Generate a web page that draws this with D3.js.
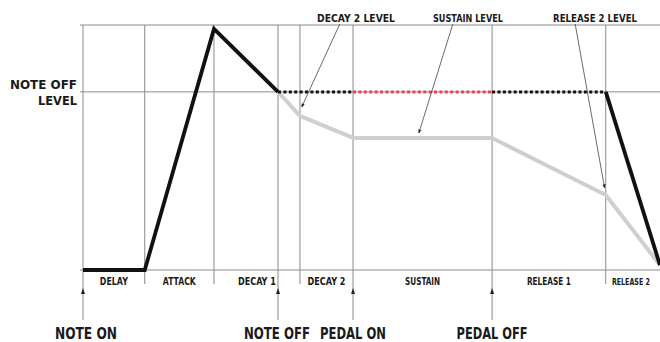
<!DOCTYPE html>
<html>
<head>
<meta charset="utf-8">
<script src="https://cdn.jsdelivr.net/npm/d3@7"></script>
<style>
  html, body { margin: 0; padding: 0; background: #fff; }
  svg { display: block; }
</style>
</head>
<body>
<div id="chart"></div>
<script>
// Envelope timeline (time 0-100, level 0-100)
const stageNames = ["DELAY", "ATTACK", "DECAY 1", "DECAY 2", "SUSTAIN", "RELEASE 1", "RELEASE 2"];
const stageStarts = [0, 10.7, 22.7, 37.6, 46.8, 70.9, 90.6];
const stageEnds = [10.7, 22.7, 37.6, 46.8, 70.9, 90.6, 100];

const eventNames = ["NOTE ON", "NOTE OFF", "PEDAL ON", "PEDAL OFF"];
const eventTimes = [0, 33.8, 46.8, 70.9];

// black envelope: note released without pedal
const blackTimes = [0, 10.7, 22.7, 33.8];
const blackLevels = [0, 0, 98.4, 72.7];
const releaseTimes = [90.6, 100];
const releaseLevels = [72.7, 2];

// held note-off level (dotted), red part while pedal is down
const holdStart = 33.8, pedalOn = 46.8, pedalOff = 70.9, holdEnd = 90.6;
const noteOffLevel = 72.7;

// grey envelope: with sustain pedal
const greyTimes = [33.8, 37.6, 46.8, 70.9, 90.6, 100];
const greyLevels = [72.7, 62.9, 53.9, 53.9, 30.6, 2];

// callouts at the top
const calloutNames = ["DECAY 2 LEVEL", "SUSTAIN LEVEL", "RELEASE 2 LEVEL"];
const calloutFromTimes = [44.5, 64.1, 85.3];
const calloutToTimes = [37.9, 58.2, 90.4];
const calloutToLevels = [66.5, 55.9, 33.5];

const width = 660, height = 342;
const font = "'Liberation Sans Narrow', 'DejaVu Sans Condensed', 'Liberation Sans', sans-serif";

const x = d3.scaleLinear().domain([0, 100]).range([83, 660]);
const y = d3.scaleLinear().domain([0, 100]).range([270, 25]);

const svg = d3.select("#chart").append("svg")
    .attr("width", width)
    .attr("height", height);

const defs = svg.append("defs");
defs.append("marker")
    .attr("id", "tip")
    .attr("viewBox", "0 0 10 10")
    .attr("refX", 9).attr("refY", 5)
    .attr("markerWidth", 5).attr("markerHeight", 5)
    .attr("orient", "auto")
    .append("path")
    .attr("d", "M0,1 L10,5 L0,9 Z")
    .attr("fill", "#222");

const grid = svg.append("g").attr("stroke", "#8a8a8a").attr("stroke-width", 1);

// horizontal lines: top, note-off level, baseline
[100, noteOffLevel, 0].forEach(l => {
    grid.append("line")
        .attr("x1", 80).attr("x2", width)
        .attr("y1", y(l)).attr("y2", y(l));
});

// stage boundary lines
const boundaries = Array.from(new Set(stageStarts));
boundaries.forEach(t => {
    const isEvent = eventTimes.includes(t);
    grid.append("line")
        .attr("x1", x(t)).attr("x2", x(t))
        .attr("y1", y(100)).attr("y2", isEvent ? 320 : 284);
});
// note off line (not a stage boundary)
eventTimes.filter(t => !boundaries.includes(t)).forEach(t => {
    grid.append("line")
        .attr("x1", x(t)).attr("x2", x(t))
        .attr("y1", y(100)).attr("y2", 320);
});

// event arrowheads
svg.append("g").selectAll("path")
    .data(eventTimes)
    .enter().append("path")
    .attr("d", t => `M${x(t) - 2},${294} L${x(t)},${288} L${x(t) + 2},${294} Z`)
    .attr("fill", "#222");

const line = d3.line().x(d => x(d[0])).y(d => y(d[1]));

// grey (pedal) envelope
svg.append("path")
    .datum(greyTimes.map((t, i) => [t, greyLevels[i]]))
    .attr("d", line)
    .attr("fill", "none")
    .attr("stroke", "#cfcfcf")
    .attr("stroke-width", 4)
    .attr("stroke-linejoin", "round");

// dotted held level
const dotted = [
    [holdStart, pedalOn, "#111"],
    [pedalOn, pedalOff, "#e8454c"],
    [pedalOff, holdEnd, "#111"]
];
dotted.forEach(s => {
    svg.append("path")
        .datum([[s[0], noteOffLevel], [s[1], noteOffLevel]])
        .attr("d", line)
        .attr("fill", "none")
        .attr("stroke", s[2])
        .attr("stroke-width", 3)
        .attr("stroke-dasharray", "3,2.4");
});

// black envelope
[[blackTimes, blackLevels], [releaseTimes, releaseLevels]].forEach(p => {
    svg.append("path")
        .datum(p[0].map((t, i) => [t, p[1][i]]))
        .attr("d", line)
        .attr("fill", "none")
        .attr("stroke", "#111")
        .attr("stroke-width", 3.8)
        .attr("stroke-linejoin", "miter");
});

// callout leaders
calloutNames.forEach((n, i) => {
    svg.append("line")
        .attr("x1", x(calloutFromTimes[i])).attr("y1", 24)
        .attr("x2", x(calloutToTimes[i])).attr("y2", y(calloutToLevels[i]))
        .attr("stroke", "#444")
        .attr("stroke-width", 0.8)
        .attr("marker-end", "url(#tip)");
});

function label(txt, cx, base, size, len, anchor) {
    svg.append("text")
        .attr("x", cx).attr("y", base)
        .attr("text-anchor", anchor || "middle")
        .attr("font-family", font)
        .attr("font-weight", "bold")
        .attr("font-size", size)
        .attr("fill", "#1a1a1a")
        .attr("textLength", len)
        .attr("lengthAdjust", "spacingAndGlyphs")
        .text(txt);
}

// stage labels
const stageWidths = [28, 33, 38, 38, 35, 44, 38];
const stageSizes = [10, 10, 10, 10, 10, 10, 8.5];
const stageOffsets = [0, 0, 0, 0, 0, 0, -2];
stageNames.forEach((n, i) => {
    label(n, (x(stageStarts[i]) + x(stageEnds[i])) / 2 + stageOffsets[i], 285, stageSizes[i], stageWidths[i]);
});

// event labels
const eventWidths = [62, 66, 66, 71];
const eventOffsets = [3, -1, 0, 0];
eventNames.forEach((n, i) => {
    label(n, x(eventTimes[i]) + eventOffsets[i], 339, 15, eventWidths[i]);
});

// top callout labels
const calloutCenters = [356, 468, 595];
const calloutWidths = [78, 70, 84];
calloutNames.forEach((n, i) => {
    label(n, calloutCenters[i], 22, 10, calloutWidths[i]);
});

// note off level label
label("NOTE OFF", 77, 89, 13, 67, "end");
label("LEVEL", 77, 105, 13, 39, "end");
</script>
</body>
</html>
